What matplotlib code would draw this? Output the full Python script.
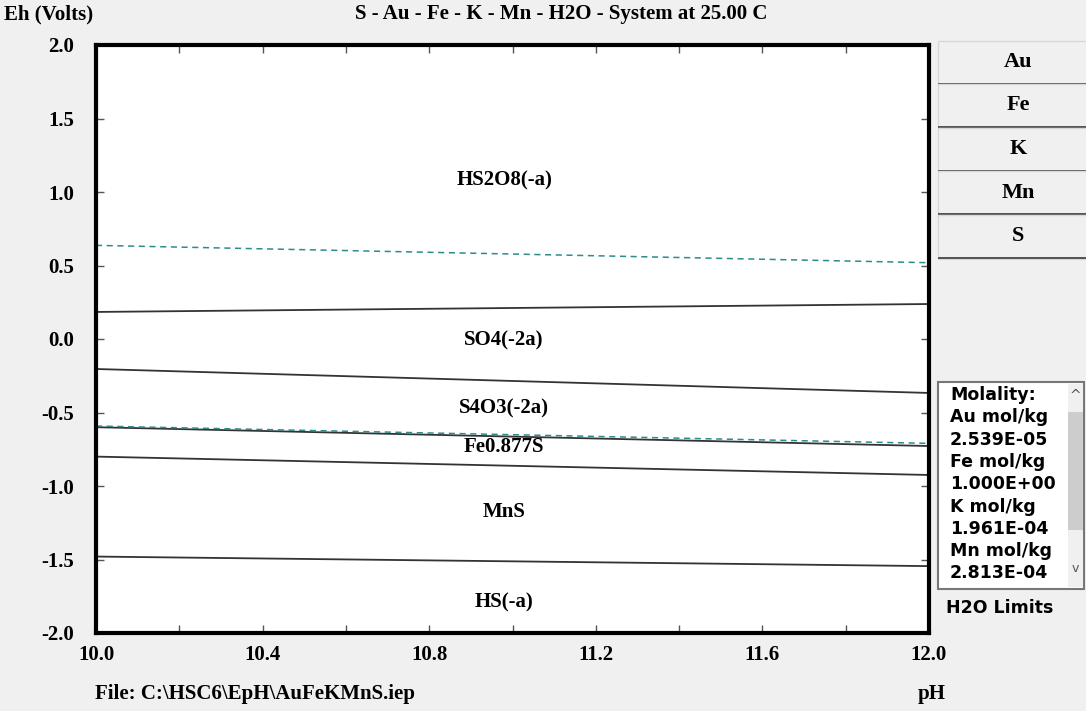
import matplotlib
matplotlib.use("Agg")
import matplotlib.pyplot as plt
from matplotlib.patches import Rectangle

# data
ph_ends = [10.0, 12.0]
boundaries = {
    "HS2O8/SO4": [0.184, 0.238],
    "SO4/S4O3": [-0.204, -0.367],
    "S4O3/Fe0.877S": [-0.600, -0.728],
    "Fe0.877S/MnS": [-0.800, -0.925],
    "MnS/HS": [-1.480, -1.545],
}
h2o_upper = [0.637, 0.519]
h2o_lower = [-0.592, -0.710]

species = ["HS2O8(-a)", "SO4(-2a)", "S4O3(-2a)", "Fe0.877S", "MnS", "HS(-a)"]
species_ph = [10.98, 10.98, 10.98, 10.98, 10.98, 10.98]
species_eh = [1.08, -0.01, -0.47, -0.735, -1.18, -1.79]

elements = ["Au", "Fe", "K", "Mn", "S"]
molality = ["Molality:", "Au mol/kg", "2.539E-05", "Fe mol/kg", "1.000E+00",
            "K mol/kg", "1.961E-04", "Mn mol/kg", "2.813E-04"]

W, H = 1086, 711
SERIF = "Liberation Serif"
SANS = "DejaVu Sans"
FS = 15

fig = plt.figure(figsize=(W / 100, H / 100), dpi=100, facecolor="#f0f0f0")
ax = fig.add_axes([96 / W, 1 - 633 / H, 833 / W, 588 / H])
ax.set_facecolor("white")

for name, eh in boundaries.items():
    ax.plot(ph_ends, eh, color="#333333", lw=1.3)
ax.plot(ph_ends, h2o_upper, color="#2e8b8b", lw=1.1, ls=(0, (4, 3)))
ax.plot(ph_ends, h2o_lower, color="#2e8b8b", lw=1.1, ls=(0, (4, 3)))

for s, x, y in zip(species, species_ph, species_eh):
    ax.text(x, y, s, ha="center", va="center", family=SERIF,
            fontweight="bold", fontsize=FS)

ax.set_xlim(10, 12)
ax.set_ylim(-2, 2)
ax.set_xticks([10 + 0.2 * i for i in range(11)])
ax.set_xticklabels(["%.1f" % (10 + 0.2 * i) if i % 2 == 0 else "" for i in range(11)])
ax.set_yticks([-2, -1.5, -1, -0.5, 0, 0.5, 1, 1.5, 2])
ax.set_yticklabels(["-2.0", "-1.5", "-1.0", "-0.5", "0.0", "0.5", "1.0", "1.5", "2.0"])
ax.tick_params(direction="in", top=True, right=True, length=6, width=1,
               color="#555555", labelsize=FS)
ax.tick_params(axis="x", pad=9)
ax.tick_params(axis="y", pad=16)
for lab in ax.get_xticklabels() + ax.get_yticklabels():
    lab.set_family(SERIF)
    lab.set_fontweight("bold")
for sp in ax.spines.values():
    sp.set_linewidth(3)
    sp.set_color("black")

def ft(x, y, s, **kw):
    fig.text(x / W, 1 - y / H, s, **kw)

ft(4, 14, "Eh (Volts)", family=SERIF, fontweight="bold", fontsize=FS, va="center")
ft(355, 14, "S - Au - Fe - K - Mn - H2O - System at 25.00 C", family=SERIF,
   fontweight="bold", fontsize=FS, va="center", ha="left")
ft(95, 694, "File: C:\\HSC6\\EpH\\AuFeKMnS.iep", family=SERIF, fontweight="bold",
   fontsize=FS, va="center")
ft(932, 694, "pH", family=SERIF, fontweight="bold", fontsize=FS, va="center",
   ha="center")

# button panel
def frect(x, y, w, h, **kw):
    fig.patches.append(Rectangle((x / W, 1 - (y + h) / H), w / W, h / H,
                                 transform=fig.transFigure, **kw))

top = 41
for i, e in enumerate(elements):
    y0 = top + i * 43.5
    frect(938, y0, 150, 43.5, facecolor="#f0f0f0", edgecolor="#d8d8d8", lw=1)
    frect(938, y0 + 41.5, 150, 2, facecolor="#555555", edgecolor="none")
    ft(1018, y0 + 21, e, family=SERIF, fontweight="bold", fontsize=16,
       ha="center", va="center")

# molality box
frect(938, 382, 146, 207, facecolor="white", edgecolor="#777777", lw=1.5)
frect(1068, 384, 15, 203, facecolor="#f0f0f0", edgecolor="none")
frect(1068, 412, 15, 118, facecolor="#cdcdcd", edgecolor="none")
ft(1075, 396, "^", family=SANS, fontsize=10, ha="center", va="center", color="#555555")
ft(1075, 568, "v", family=SANS, fontsize=9, ha="center", va="center", color="#555555")
for i, s in enumerate(molality):
    ft(950, 395 + i * 22.3, s, family=SANS, fontweight="bold", fontsize=12.5,
       va="center")
ft(946, 608, "H2O Limits", family=SANS, fontweight="bold", fontsize=12.5, va="center")

fig.savefig("out.png", dpi=100, facecolor=fig.get_facecolor())
